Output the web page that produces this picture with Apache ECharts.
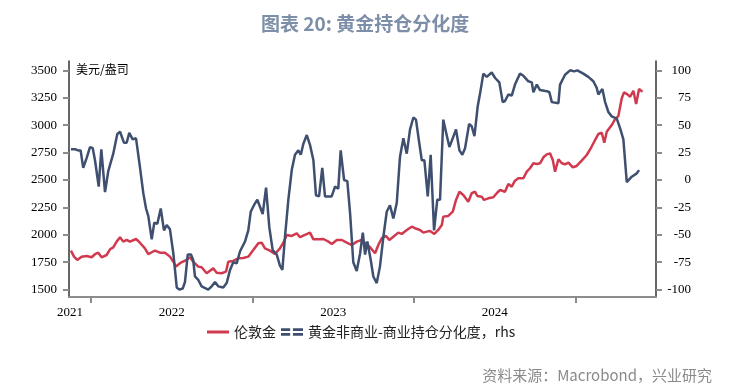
<!DOCTYPE html>
<html>
<head>
<meta charset="utf-8">
<script src="https://cdn.jsdelivr.net/npm/echarts@6/dist/echarts.min.js"></script>
<style>html,body{margin:0;padding:0;background:#fff;}#c{width:736px;height:391px;}</style>
</head>
<body>
<div id="c"></div>
<script>
// time in decimal years
const redX = [2021.876,2021.895,2021.915,2021.942,2021.973,2022.004,2022.025,2022.045,2022.066,2022.097,
2022.118,2022.138,2022.159,2022.180,2022.200,2022.221,2022.241,2022.279,2022.303,2022.334,
2022.355,2022.376,2022.396,2022.427,2022.458,2022.489,2022.510,2022.526,2022.551,2022.582,
2022.613,2022.633,2022.664,2022.685,2022.716,2022.737,2022.757,2022.778,2022.809,2022.836,
2022.850,2022.881,2022.912,2022.943,2022.974,2023.005,2023.036,2023.057,2023.077,2023.108,
2023.139,2023.170,2023.191,2023.212,2023.243,2023.274,2023.294,2023.325,2023.356,2023.377,
2023.408,2023.439,2023.470,2023.491,2023.522,2023.553,2023.584,2023.615,2023.646,2023.676,
2023.703,2023.728,2023.759,2023.779,2023.800,2023.827,2023.847,2023.872,2023.903,2023.924,
2023.955,2023.986,2024.006,2024.037,2024.058,2024.079,2024.099,2024.126,2024.150,2024.172,
2024.181,2024.212,2024.240,2024.260,2024.281,2024.305,2024.336,2024.357,2024.378,2024.392,
2024.419,2024.433,2024.460,2024.491,2024.512,2024.533,2024.563,2024.584,2024.605,2024.625,
2024.646,2024.677,2024.698,2024.718,2024.739,2024.760,2024.780,2024.801,2024.822,2024.842,
2024.859,2024.873,2024.894,2024.915,2024.935,2024.956,2024.983,2025.007,2025.038,2025.069,
2025.094,2025.121,2025.141,2025.162,2025.178,2025.193,2025.224,2025.244,2025.265,2025.286,
2025.300,2025.321,2025.338,2025.358,2025.375,2025.393,2025.414];
const redY = [1856,1801,1771,1801,1807,1795,1823,1837,1795,1816,
1868,1886,1938,1978,1938,1953,1938,1962,1928,1877,
1823,1841,1856,1837,1837,1801,1755,1710,1741,1764,
1795,1755,1710,1704,1650,1673,1695,1655,1650,1664,
1755,1762,1786,1789,1801,1862,1923,1928,1877,1856,
1825,1877,1928,1999,1990,2014,1978,1999,2020,1959,
1959,1962,1938,1917,1953,1953,1928,1907,1938,1953,
1917,1886,1832,1907,1969,1990,1953,1983,2020,2008,
2044,2074,2060,2044,2020,2029,2035,2008,2044,2090,
2166,2172,2211,2318,2393,2363,2302,2379,2393,2354,
2348,2318,2333,2342,2379,2409,2393,2464,2439,2494,
2516,2516,2576,2607,2652,2646,2652,2707,2734,2743,
2682,2576,2689,2652,2643,2658,2616,2628,2676,2728,
2789,2865,2919,2931,2840,2940,3001,3053,3083,3245,
3299,3281,3259,3314,3193,3330,3305];

const blueX = [2021.876,2021.901,2021.921,2021.936,2021.952,2021.973,2021.994,2022.011,2022.025,2022.048,
2022.064,2022.087,2022.107,2022.138,2022.163,2022.180,2022.204,2022.221,2022.237,2022.258,
2022.279,2022.303,2022.324,2022.341,2022.355,2022.376,2022.392,2022.411,2022.432,2022.452,
2022.469,2022.489,2022.510,2022.531,2022.547,2022.568,2022.582,2022.599,2022.619,2022.633,
2022.644,2022.664,2022.685,2022.726,2022.747,2022.768,2022.788,2022.819,2022.840,2022.861,
2022.881,2022.902,2022.923,2022.954,2022.974,2022.989,2023.009,2023.030,2023.063,2023.084,
2023.104,2023.125,2023.150,2023.170,2023.185,2023.201,2023.222,2023.243,2023.263,2023.284,
2023.299,2023.315,2023.336,2023.356,2023.377,2023.393,2023.412,2023.432,2023.449,2023.490,
2023.511,2023.531,2023.546,2023.567,2023.587,2023.604,2023.624,2023.645,2023.666,2023.683,
2023.697,2023.711,2023.732,2023.748,2023.769,2023.789,2023.810,2023.831,2023.851,2023.872,
2023.893,2023.913,2023.934,2023.955,2023.975,2023.996,2024.012,2024.033,2024.048,2024.064,
2024.085,2024.103,2024.124,2024.144,2024.161,2024.181,2024.202,2024.219,2024.260,2024.281,
2024.299,2024.316,2024.341,2024.357,2024.374,2024.394,2024.409,2024.429,2024.450,2024.481,
2024.502,2024.528,2024.549,2024.563,2024.584,2024.605,2024.625,2024.656,2024.677,2024.708,
2024.729,2024.739,2024.760,2024.780,2024.822,2024.838,2024.853,2024.894,2024.904,2024.935,
2024.966,2024.991,2025.011,2025.048,2025.079,2025.110,2025.131,2025.141,2025.166,2025.183,
2025.203,2025.224,2025.255,2025.276,2025.296,2025.317,2025.348,2025.379,2025.393];
const blueY = [28,28,27,27,11,20,30,29,18,-6,
28,-11,8,24,42,44,34,34,43,37,
38,12,-12,-26,-33,-54,-39,-40,-26,-46,
-41,-45,-67,-98,-100,-99,-93,-68,-68,-73,
-88,-91,-97,-100,-97,-93,-97,-98,-94,-82,
-75,-76,-65,-56,-46,-29,-23,-18,-31,-7,
-43,-64,-68,-78,-82,-52,-18,9,23,27,
23,33,41,32,18,-14,-15,11,-15,-15,
-6,-8,27,0,-1,-30,-75,-83,-67,-48,
-68,-56,-73,-88,-94,-79,-52,-29,-23,-35,
-21,21,38,24,46,57,55,33,18,18,
-15,23,-46,-18,-18,55,41,30,46,27,
23,29,51,49,40,67,79,97,94,98,
93,89,71,72,78,77,87,97,95,90,
89,80,87,82,81,80,71,70,87,96,
100,99,100,97,94,90,84,78,83,71,
62,58,56,47,37,-2,3,6,9];

const leftTicks = [1500,1750,2000,2250,2500,2750,3000,3250,3500];
const rightTicks = [-100,-75,-50,-25,0,25,50,75,100];
const yearTicks = [2022,2023,2024,2025];
const yearLabels = [2021.87,2022.5,2023.5,2024.5];

const redName = '伦敦金';
const blueName = '黄金非商业-商业持仓分化度，rhs';

const chart = echarts.init(document.getElementById('c'), null, {renderer:'canvas'});
const tickStyle = {color:'#8c8c8c', width:2};
const numFont = {fontFamily:'Liberation Serif', fontSize:13, color:'#000'};

chart.setOption({
  animation:false,
  backgroundColor:'#fff',
  title:{text:'图表 20: 黄金持仓分化度', left:256, top:9,
    textStyle:{fontFamily:'Noto Sans CJK SC', fontSize:19, fontWeight:'bold', color:'#7d8ea8'}},
  grid:{left:69, right:80, top:61, bottom:94, containLabel:false},
  legend:{left:202, top:320, itemWidth:22, itemHeight:8, itemGap:5,
    textStyle:{fontFamily:'Noto Sans CJK SC', fontSize:14, color:'#222'},
    data:[{name:redName, icon:'path://M0,0h0.05v0.05h-0.05z M0,2.5H22V5.5H0Z M21.95,7.95h0.05v0.05h-0.05z'},
          {name:blueName, icon:'path://M0,0H10V3H0Z M13,0H24V3H13Z M0,5H10V8H0Z M13,5H24V8H13Z'}]},
  xAxis:{type:'value', min:2021.864, max:2025.498,
    axisLine:{show:true, onZero:false, lineStyle:{color:'#8c8c8c', width:2}},
    axisTick:{show:true, customValues:yearTicks, length:6, lineStyle:tickStyle},
    axisLabel:{customValues:yearLabels, margin:9, formatter:v=>String(Math.floor(v)), ...numFont},
    splitLine:{show:false}},
  yAxis:[
    {type:'value', position:'left', min:1433, max:3585,
      axisLine:{show:true, onZero:false, lineStyle:{color:'#333', width:1.5}},
      axisTick:{show:true, customValues:leftTicks, length:6, lineStyle:tickStyle},
      axisLabel:{customValues:leftTicks, margin:12, formatter:v=>String(Math.round(v)), ...numFont},
      splitLine:{show:false}},
    {type:'value', position:'right', min:-106.7, max:108.5,
      axisLine:{show:true, onZero:false, lineStyle:{color:'#333', width:1.5}},
      axisTick:{show:true, customValues:rightTicks, length:6, lineStyle:tickStyle},
      axisLabel:{customValues:rightTicks, margin:35, align:'right', formatter:v=>String(Math.round(v)), ...numFont},
      splitLine:{show:false}}
  ],
  graphic:[
    {type:'text', left:76, top:63, style:{text:'美元/盎司', font:'12px "Noto Sans CJK SC"', fill:'#000'}},
    {type:'text', right:24, top:368, style:{text:'资料来源：Macrobond，兴业研究', font:'15px "Noto Sans CJK SC"', fill:'#8a8a8a'}}
  ],
  series:[
    {name:redName, type:'line', yAxisIndex:0, symbol:'none', smooth:false,
      lineStyle:{color:'#d0394e', width:2.5}, itemStyle:{color:'#d0394e'},
      data:redX.map((x,i)=>[x, redY[i]])},
    {name:blueName, type:'line', yAxisIndex:1, symbol:'none', smooth:false,
      lineStyle:{color:'#3e4f6f', width:2.5}, itemStyle:{color:'#3e4f6f'},
      data:blueX.map((x,i)=>[x, blueY[i]])}
  ]
});
</script>
</body>
</html>
